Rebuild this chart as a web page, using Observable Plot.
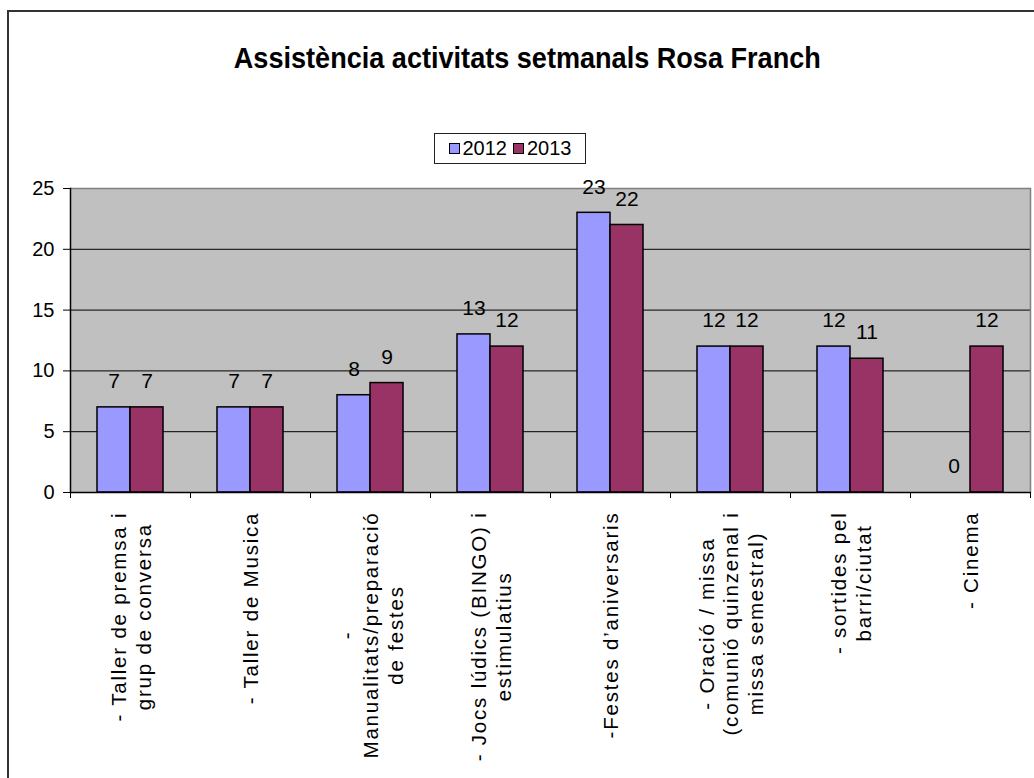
<!DOCTYPE html>
<html>
<head>
<meta charset="utf-8">
<script src="https://cdn.jsdelivr.net/npm/d3@7"></script>
<script src="https://cdn.jsdelivr.net/npm/@observablehq/plot@0.6"></script>
<style>
  html, body { margin: 0; padding: 0; background: #fff; overflow: hidden; }
  #page { position: relative; width: 1034px; height: 778px; overflow: hidden; font-family: "Liberation Sans", Arial, sans-serif; }
  #border { position: absolute; left: 7px; top: 10px; width: 1200px; height: 1000px; border-left: 2px solid #333; border-top: 2px solid #333; }
  #header { position: relative; height: 170px; }
  #title { position: absolute; left: 0; width: 1054px; top: 42px; text-align: center; white-space: nowrap; }
  #title span { display: inline-block; font-weight: bold; font-size: 29px; color: #000; transform-origin: center center; }
  #legend { position: absolute; left: 434px; top: 133px; width: 150px; height: 29px; border: 1px solid #222; background: #fff;
            display: flex; align-items: center; justify-content: center; gap: 6px; font-size: 20px; color: #000; }
  #legend .item { display: flex; align-items: center; gap: 3px; }
  #legend .sw { width: 9px; height: 9px; border: 1px solid #000; }
  #chart { position: relative; }
</style>
</head>
<body>
<div id="page">
  <div id="border"></div>
  <div id="header">
    <div id="title"><span id="titleText"></span></div>
    <div id="legend"></div>
  </div>
  <div id="chart"></div>
</div>
<script>
// ---------- data ----------
const titleText = "Assistència activitats setmanals Rosa Franch";
const categories = [
  "- Taller de premsa i grup de conversa",
  "- Taller de Musica",
  "- Manualitats/preparació de festes",
  "- Jocs lúdics (BINGO) i estimulatius",
  "-Festes d’aniversaris",
  "- Oració / missa (comunió quinzenal i missa semestral)",
  "- sortides pel barri/ciutat",
  "- Cinema"
];
const categoryLabels = [
  "- Taller de premsa i\ngrup de conversa",
  "- Taller de Musica",
  "-\nManualitats/preparació\nde festes",
  "- Jocs lúdics (BINGO) i\nestimulatius",
  "-Festes d’aniversaris",
  "- Oració / missa\n(comunió quinzenal i\nmissa semestral)",
  "- sortides pel\nbarri/ciutat",
  "- Cinema"
];
const years = ["2012", "2013"];
const values2012 = [7, 7, 8, 13, 23, 12, 12, 0];
const values2013 = [7, 7, 9, 12, 22, 12, 11, 12];
const yTicks = [0, 5, 10, 15, 20, 25];
const yearColors = ["#9999FF", "#993366"];

// ---------- layout ----------
const W = 1034, H = 608;
const mTop = 18, mBottom = 286, mLeft = 70, mRight = 4;
const bandW = (W - mLeft - mRight) / categories.length;
const labelFont = 20.5, labelSpacing = 1.8, labelGap = 19;

const rows = categories.flatMap((c, i) => [
  {category: c, year: years[0], value: values2012[i]},
  {category: c, year: years[1], value: values2013[i]}
]);

// title
const tEl = document.getElementById("titleText");
tEl.textContent = titleText;
const tw = tEl.getBoundingClientRect().width;
tEl.style.transform = `scaleX(${587 / tw})`;

// legend
const leg = document.getElementById("legend");
years.forEach((y, i) => {
  const it = document.createElement("div");
  it.className = "item";
  const sw = document.createElement("div");
  sw.className = "sw";
  sw.style.background = yearColors[i];
  const tx = document.createElement("span");
  tx.textContent = y;
  it.appendChild(sw); it.appendChild(tx);
  leg.appendChild(it);
});

// measure category label lengths
const ctx = document.createElement("canvas").getContext("2d");
ctx.font = `${labelFont}px "Liberation Sans"`;
function halfLen(label) {
  return d3.max(label.split("\n"), s => ctx.measureText(s).width + labelSpacing * s.length) / 2;
}

const labelMarks = categories.map((c, i) =>
  Plot.text([categoryLabels[i]], {
    fx: () => c,
    text: d => d,
    frameAnchor: "bottom",
    rotate: -90,
    textAnchor: "middle",
    lineAnchor: "middle",
    lineHeight: 1.2,
    fontSize: labelFont,
    dy: labelGap + halfLen(categoryLabels[i])
  })
);

const lastCat = categories[categories.length - 1];

const chart = Plot.plot({
  width: W,
  height: H,
  marginTop: mTop,
  marginBottom: mBottom,
  marginLeft: mLeft,
  marginRight: mRight,
  style: {fontFamily: '"Liberation Sans", Arial, sans-serif', fontSize: "19px", color: "#000", background: "transparent", overflow: "visible"},
  fx: {domain: categories, padding: 0, axis: null},
  x: {domain: years, paddingInner: 0, paddingOuter: 0.765, axis: null},
  y: {domain: [0, 25], axis: null},
  color: {domain: years, range: yearColors},
  marks: [
    Plot.frame({fill: "#C0C0C0", stroke: null, shapeRendering: "crispEdges"}),
    Plot.ruleY(yTicks.filter(t => t > 0 && t < 25), {stroke: "#000", strokeWidth: 1}),
    Plot.ruleY([25], {stroke: "#808080", strokeWidth: 1.5}),
    Plot.frame({anchor: "right", stroke: "#808080", strokeWidth: 1.5, fx: () => lastCat}),
    // category boundary ticks below the axis
    Plot.ruleX([0], {x: null, y1: () => 0, y2: () => 0, insetBottom: -6, dx: -bandW / 2, stroke: "#000"}),
    Plot.ruleX([0], {x: null, y1: () => 0, y2: () => 0, insetBottom: -6, dx: bandW / 2, stroke: "#000", fx: () => lastCat}),
    Plot.barY(rows, {fx: "category", x: "year", y: "value", fill: "year", stroke: "#000", strokeWidth: 1.5}),
    Plot.ruleY([0], {stroke: "#000", strokeWidth: 1.5}),
    Plot.frame({anchor: "left", stroke: "#000", strokeWidth: 1.5, fx: () => categories[0]}),
    Plot.text(rows, {fx: "category", x: "year", y: "value", text: d => String(d.value), dy: -26, fontSize: 21}),
    Plot.axisY({ticks: yTicks, tickSize: 7, tickPadding: 9, fontSize: 20, label: null, tickFormat: d => String(d)}),
    ...labelMarks
  ]
});
// letter spacing for the rotated category labels (Excel-like spacing)
chart.querySelectorAll("g").forEach(g => {
  if (g.getAttribute("font-size") === String(labelFont)) {
    g.style.letterSpacing = labelSpacing + "px";
    g.querySelectorAll("text, tspan").forEach(t => t.style.letterSpacing = labelSpacing + "px");
  }
});
document.getElementById("chart").appendChild(chart);
</script>
</body>
</html>
